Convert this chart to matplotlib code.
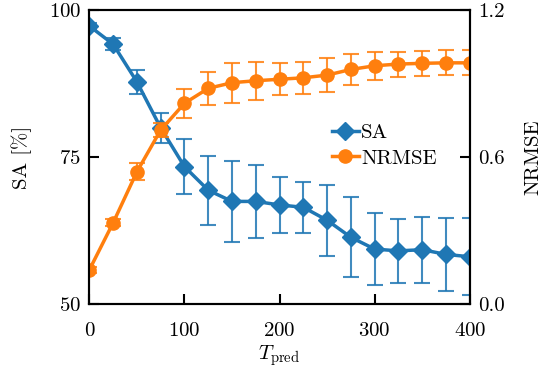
import matplotlib
matplotlib.use("Agg")
import matplotlib.pyplot as plt
import numpy as np

plt.rcParams["font.family"] = "serif"
plt.rcParams["font.serif"] = ["cmr10"]
plt.rcParams["mathtext.fontset"] = "cm"
plt.rcParams["axes.formatter.use_mathtext"] = True
plt.rcParams["font.size"] = 15

t_pred = [0, 25, 50, 75, 100, 125, 150, 175, 200, 225, 250, 275, 300, 325, 350, 375, 400]
sa = [97.3, 94.2, 87.8, 80.0, 73.4, 69.4, 67.5, 67.5, 66.9, 66.5, 64.3, 61.4, 59.4, 59.1, 59.3, 58.5, 58.1]
sa_err = [0.5, 1.0, 2.1, 2.6, 4.7, 5.9, 6.9, 6.2, 4.8, 4.3, 6.0, 6.8, 6.1, 5.4, 5.6, 6.2, 6.5]
nrmse = [0.141, 0.333, 0.541, 0.711, 0.820, 0.881, 0.904, 0.912, 0.918, 0.924, 0.935, 0.958, 0.973, 0.980, 0.983, 0.985, 0.985]
nrmse_err = [0.012, 0.015, 0.034, 0.03, 0.059, 0.068, 0.081, 0.078, 0.065, 0.065, 0.069, 0.065, 0.056, 0.051, 0.051, 0.051, 0.051]

blue = "#1f77b4"
orange = "#ff7f0e"

fig = plt.figure(figsize=(5.45, 3.74), dpi=100)
ax = fig.add_axes([0.164, 0.186, 0.698, 0.787])
ax2 = ax.twinx()

sa_bars = ax.errorbar(t_pred, sa, yerr=sa_err, color=blue, marker="D", markersize=9,
                      lw=2.5, elinewidth=1.5, capsize=6, capthick=1.5)
nr_bars = ax2.errorbar(t_pred, nrmse, yerr=nrmse_err, color=orange, marker="o", markersize=9.5,
                       lw=2.5, elinewidth=1.5, capsize=6, capthick=1.5)
# slightly lighter error bars than the main lines
for bars in (sa_bars, nr_bars):
    bars[2][0].set_alpha(0.85)
    for c in bars[1]:
        c.set_alpha(0.85)

ax.set_xlim(0, 400)
ax.set_ylim(50, 100)
ax2.set_ylim(0, 1.2)
ax.set_xticks([0, 100, 200, 300, 400])
ax.set_yticks([50, 75, 100])
ax2.set_yticks([0.0, 0.6, 1.2])
ax2.set_yticklabels(["0.0", "0.6", "1.2"])

ax.set_xlabel(r"$T_{\rm pred}$", labelpad=2)
ax.set_ylabel("SA [%]", labelpad=12)
ax2.set_ylabel("NRMSE", labelpad=14)

for a in (ax, ax2):
    a.tick_params(direction="in", length=7, width=1.5, pad=6)
    for s in a.spines.values():
        s.set_linewidth(1.5)
ax.tick_params(axis="x", pad=13)

ax2.legend([sa_bars[0], nr_bars[0]], ["SA", "NRMSE"], loc="center right",
           bbox_to_anchor=(0.935, 0.54), frameon=False, handlelength=1.3,
           handletextpad=0.1, labelspacing=0.35, borderaxespad=0)

fig.savefig("out.png", dpi=100)
